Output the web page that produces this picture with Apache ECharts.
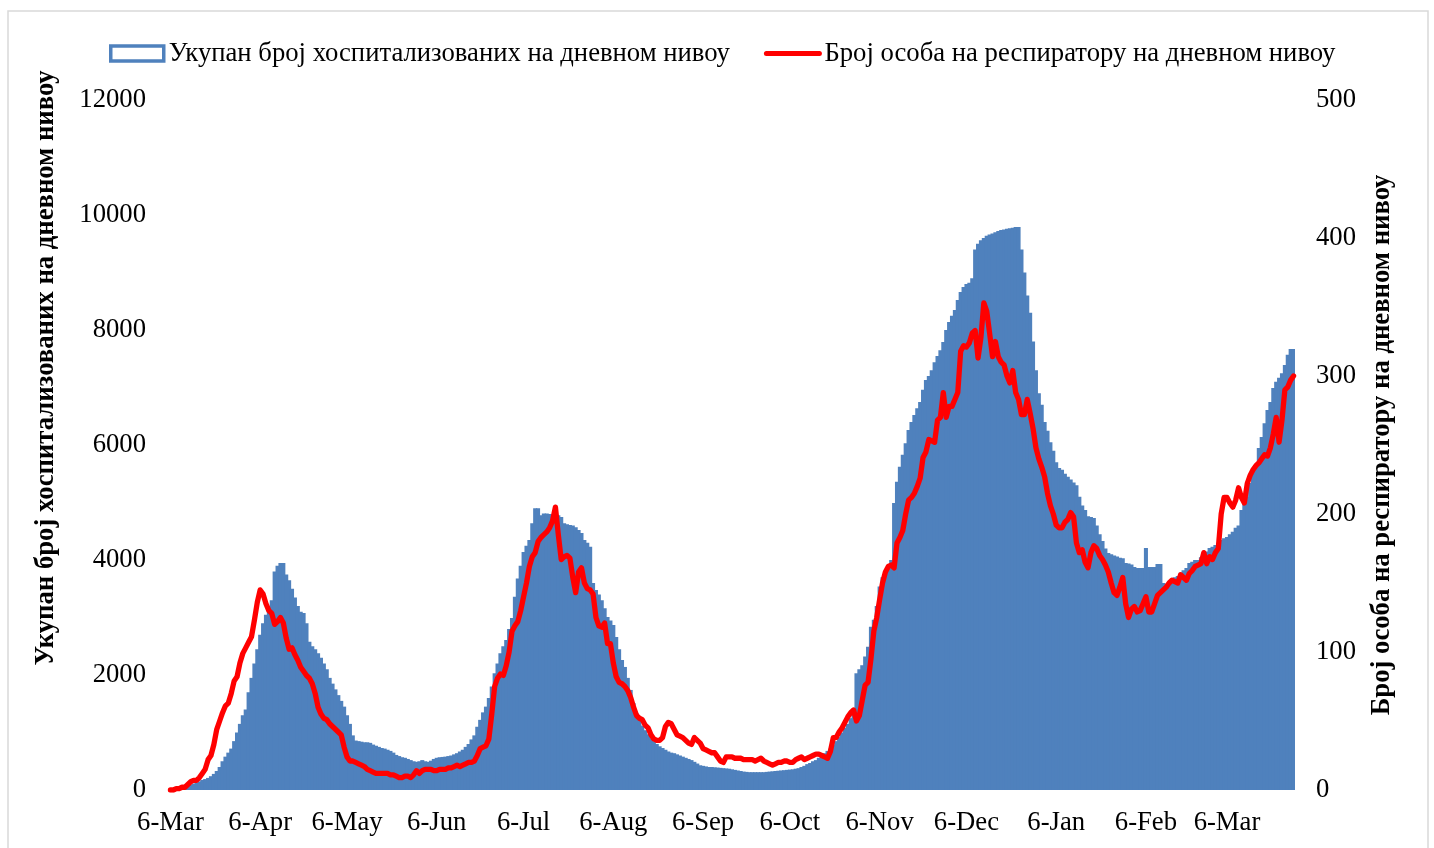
<!DOCTYPE html>
<html>
<head>
<meta charset="utf-8">
<script src="https://cdn.jsdelivr.net/npm/echarts@6/dist/echarts.min.js"></script>
<style>
html,body{margin:0;padding:0;background:#fff;}
#chart{width:1434px;height:848px;}
</style>
</head>
<body>
<div id="chart"></div>
<script>
// First day of data: 6 March 2020, one value per day
const startDate = [2020, 2, 6];
const monthNames = ['Jan','Feb','Mar','Apr','May','Jun','Jul','Aug','Sep','Oct','Nov','Dec'];
const tickDay = 6;

const seriesNames = [
  'Укупан број хоспитализованих на дневном нивоу',
  'Број особа на респиратору на дневном нивоу'
];
const leftAxisTitle = 'Укупан број хоспитализованих на дневном нивоу';
const rightAxisTitle = 'Број особа на респиратору на дневном нивоу';

// Total hospitalized per day (left axis)
const hospitalized = [
  10, 15, 20, 30, 40, 50, 70, 90, 110, 130,
  150, 175, 190, 210, 240, 280, 330, 400, 500, 580,
  650, 720, 850, 1000, 1150, 1300, 1400, 1700, 1950, 2200,
  2450, 2700, 2900, 3050, 3150, 3300, 3800, 3900, 3950, 3950,
  3750, 3650, 3500, 3350, 3200, 3100, 3080, 2900, 2580, 2500,
  2450, 2380, 2300, 2200, 2100, 1950, 1850, 1750, 1650, 1550,
  1450, 1300, 1150, 950, 860, 850, 840, 830, 830, 820,
  790, 770, 750, 730, 720, 700, 680, 650, 610, 590,
  570, 560, 540, 520, 500, 490, 500, 520, 500, 490,
  510, 540, 560, 570, 575, 580, 590, 600, 620, 640,
  670, 700, 750, 800, 880, 950, 1100, 1220, 1350, 1450,
  1600, 1800, 2030, 2200, 2380, 2500, 2610, 2800, 2990, 3360,
  3680, 3900, 4140, 4250, 4350, 4640, 4900, 4900, 4780, 4810,
  4810, 4800, 4800, 4790, 4780, 4750, 4640, 4620, 4610, 4600,
  4570, 4520, 4470, 4350, 4300, 4230, 3600, 3480, 3400, 3300,
  3160, 3010, 2950, 2870, 2660, 2450, 2260, 2140, 1950, 1740,
  1510, 1340, 1220, 1120, 1040, 970, 900, 850, 800, 760,
  730, 700, 670, 650, 640, 620, 600, 580, 560, 540,
  520, 490, 460, 430, 420, 410, 400, 400, 395, 390,
  385, 380, 375, 370, 360, 350, 340, 330, 320, 315,
  310, 310, 310, 310, 310, 310, 315, 320, 325, 330,
  335, 340, 345, 350, 355, 360, 370, 380, 400, 420,
  450, 470, 500, 520, 560, 600, 640, 680, 720, 780,
  850, 920, 1000, 1080, 1150, 1250, 1350, 2030, 2100, 2170,
  2320, 2490, 2840, 2960, 3200, 3540, 3700, 3770, 3900, 4000,
  4990, 5360, 5620, 5830, 6030, 6260, 6400, 6520, 6640, 6750,
  6960, 7130, 7200, 7300, 7440, 7550, 7650, 7790, 8000, 8140,
  8250, 8350, 8520, 8660, 8750, 8800, 8820, 8900, 9400, 9500,
  9560, 9600, 9640, 9660, 9680, 9700, 9720, 9740, 9750, 9760,
  9770, 9780, 9790, 9790, 9400, 9000, 8600, 8300, 7800, 7300,
  6900, 6700, 6400, 6250, 6050, 5900, 5700, 5600, 5570, 5500,
  5450, 5400, 5350, 5300, 5100, 4950, 4870, 4760, 4750, 4730,
  4600, 4450, 4330, 4200, 4120, 4100, 4080, 4060, 4040, 4030,
  3950, 3940, 3920, 3880, 3860, 3860, 3860, 4210, 3880, 3880,
  3880, 3930, 3930, 3600, 3550, 3600, 3650, 3700, 3720, 3780,
  3820, 3860, 3950, 3970, 4000, 4000, 4050, 4120, 4150, 4210,
  4230, 4260, 4300, 4350, 4380, 4400, 4450, 4490, 4560, 4600,
  4870, 5000, 5100, 5340, 5500, 5620, 5950, 6140, 6380, 6610,
  6750, 6990, 7100, 7170, 7250, 7390, 7570, 7670, 7670
];

// Patients on respirator per day (right axis)
const respirator = [
  0, 0, 1, 1, 2, 2, 4, 6, 7, 7,
  9, 12, 15, 22, 25, 33, 44, 50, 56, 61,
  63, 70, 79, 82, 92, 99, 103, 107, 111, 123,
  136, 145, 142, 135, 130, 128, 120, 122, 125, 121,
  110, 102, 103, 98, 94, 89, 86, 83, 81, 77,
  70, 60, 55, 52, 51, 48, 46, 44, 42, 40,
  31, 24, 21, 21, 20, 19, 18, 17, 15, 14,
  13, 12, 12, 12, 12, 12, 11, 11, 10, 9,
  9, 10, 10, 9, 11, 14, 12, 14, 15, 15,
  15, 14, 14, 15, 15, 15, 16, 16, 17, 18,
  17, 18, 19, 20, 20, 21, 25, 30, 31, 32,
  37, 55, 75, 81, 84, 83, 90, 100, 115, 119,
  122, 130, 140, 150, 162, 169, 172, 180, 183, 185,
  187, 190, 195, 205, 185, 167, 169, 170, 168, 154,
  143, 158, 161, 150, 146, 145, 142, 125, 119, 118,
  121, 106, 106, 92, 82, 78, 77, 75, 72, 67,
  60, 54, 52, 51, 47, 45, 40, 37, 36, 36,
  38, 46, 49, 48, 44, 40, 39, 38, 36, 34,
  33, 38, 36, 34, 30, 29, 28, 27, 27, 24,
  21, 20, 24, 24, 24, 23, 23, 23, 22, 22,
  22, 22, 21, 22, 23, 21, 20, 19, 18, 19,
  20, 20, 21, 21, 20, 20, 22, 23, 24, 22,
  23, 24, 25, 26, 26, 25, 24, 23, 28, 38,
  38, 42, 45, 49, 53, 56, 58, 50, 54, 65,
  76, 78, 95, 115, 125, 138, 150, 158, 162, 163,
  161, 179, 183, 188, 200, 210, 212, 215, 220, 226,
  241, 245, 254, 253, 252, 268, 270, 288, 270, 278,
  278, 283, 288, 318, 322, 321, 324, 331, 333, 313,
  328, 353, 347, 331, 314, 325, 314, 310, 308, 300,
  295, 304, 288, 283, 272, 272, 283, 273, 262, 248,
  240, 234, 227, 215, 206, 200, 192, 190, 190, 194,
  196, 201, 198, 179, 172, 174, 165, 161, 172, 177,
  175, 170, 167, 163, 158, 150, 143, 141, 147, 154,
  135, 125, 131, 133, 129, 130, 135, 140, 129, 129,
  135, 141, 143, 145, 147, 150, 152, 151, 150, 156,
  154, 152, 157, 159, 162, 163, 164, 172, 164, 169,
  167, 172, 175, 200, 212, 212, 208, 205, 210, 219,
  212, 208, 222, 228, 232, 235, 237, 240, 243, 242,
  248, 258, 270, 252, 268, 290, 292, 297, 300
];

// Build the daily category list (dates) from the start date
const categories = [];
for (let i = 0; i < hospitalized.length; i++) {
  const d = new Date(Date.UTC(startDate[0], startDate[1], startDate[2] + i));
  categories.push(d.getUTCFullYear() + '-' + (d.getUTCMonth() + 1) + '-' + d.getUTCDate());
}
function dayOf(v) { return +v.split('-')[2]; }
function labelOf(v) { const p = v.split('-'); return p[2] + '-' + monthNames[+p[1] - 1]; }

const FONT = '"Liberation Serif", "Times New Roman", serif';
const FS = 26.7;
const chart = echarts.init(document.getElementById('chart'), null, {renderer: 'canvas'});

chart.setOption({
  animation: false,
  backgroundColor: '#ffffff',
  textStyle: {fontFamily: FONT, color: '#000'},
  grid: {left: 169, right: 139, top: 100, bottom: 58, containLabel: false},
  legend: {
    top: 35,
    left: 104,
    itemWidth: 53,
    itemHeight: 15,
    itemGap: 34,
    textStyle: {fontFamily: FONT, fontSize: FS, color: '#000'},
    data: [
      {name: seriesNames[0], icon: 'rect', itemStyle: {color: '#ffffff', borderColor: '#4F81BD', borderWidth: 3.5}},
      {name: seriesNames[1], itemStyle: {color: 'rgba(0,0,0,0)', opacity: 0, borderWidth: 0},
       lineStyle: {color: '#FF0000', width: 5, cap: 'round'}}
    ]
  },
  xAxis: {
    type: 'category',
    data: categories,
    boundaryGap: true,
    axisLine: {show: false},
    axisTick: {show: false},
    splitLine: {show: false},
    axisLabel: {
      interval: function (idx, v) { return dayOf(v) === tickDay; },
      formatter: function (v) { return labelOf(v); },
      fontFamily: FONT, fontSize: FS, color: '#000', margin: 19
    }
  },
  yAxis: [
    {
      type: 'value', min: 0, max: 12000, interval: 2000,
      axisLine: {show: false}, axisTick: {show: false}, splitLine: {show: false},
      axisLabel: {fontFamily: FONT, fontSize: FS, color: '#000', margin: 23,
        formatter: function (v) { return String(v); }}
    },
    {
      type: 'value', min: 0, max: 500, interval: 100, position: 'right',
      axisLine: {show: false}, axisTick: {show: false}, splitLine: {show: false},
      axisLabel: {fontFamily: FONT, fontSize: FS, color: '#000', margin: 21,
        formatter: function (v) { return String(v); }}
    }
  ],
  series: [
    {
      name: seriesNames[0],
      type: 'bar',
      data: hospitalized,
      yAxisIndex: 0,
      barWidth: '140%',
      barGap: 0,
      itemStyle: {color: '#4F81BD'},
      emphasis: {disabled: true}
    },
    {
      name: seriesNames[1],
      type: 'line',
      data: respirator,
      yAxisIndex: 1,
      symbol: 'none',
      smooth: false,
      lineStyle: {color: '#FF0000', width: 5.3, join: 'round', cap: 'round'},
      itemStyle: {color: '#FF0000'},
      emphasis: {disabled: true},
      z: 3
    }
  ],
  graphic: [
    {
      type: 'rect', silent: true, z: -1,
      shape: {x: 8, y: 11, width: 1420, height: 850},
      style: {fill: 'none', stroke: '#d9d9d9', lineWidth: 1.5}
    },
    {
      type: 'text', x: 46, y: 368, rotation: Math.PI / 2,
      style: {text: leftAxisTitle, font: 'bold ' + FS + 'px ' + FONT, fill: '#000', textAlign: 'center', textVerticalAlign: 'middle'}
    },
    {
      type: 'text', x: 1382, y: 445, rotation: Math.PI / 2,
      style: {text: rightAxisTitle, font: 'bold ' + FS + 'px ' + FONT, fill: '#000', textAlign: 'center', textVerticalAlign: 'middle'}
    }
  ]
});
</script>
</body>
</html>
